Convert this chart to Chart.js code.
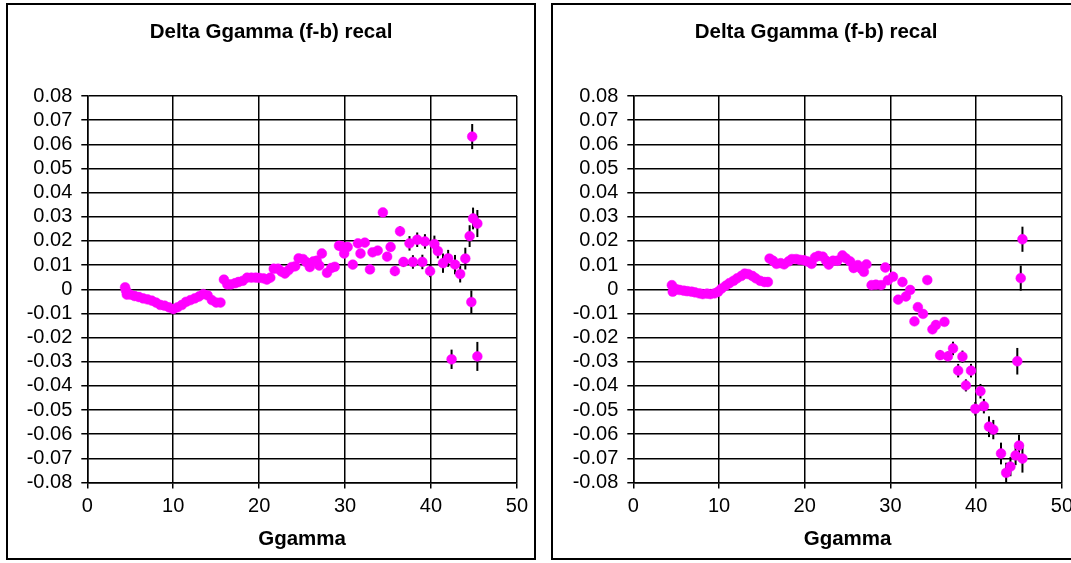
<!DOCTYPE html>
<html>
<head>
<meta charset="utf-8">
<script src="https://cdn.jsdelivr.net/npm/chart.js@4.4.1/dist/chart.umd.min.js"></script>
<style>
  html, body { margin: 0; padding: 0; background: #fff; overflow: hidden; }
  body { width: 1071px; height: 563px; position: relative; }
  .box { position: absolute; top: 3px; width: 530px; height: 557px; border: 2px solid #000; box-sizing: border-box; background: #fff; }
  .box canvas { display: block; }
</style>
</head>
<body>
<div class="box" style="left:6px"><canvas id="leftChart" width="526" height="553"></canvas></div>
<div class="box" style="left:551px"><canvas id="rightChart" width="526" height="553"></canvas></div>
<script>
// chart texts
const chartTitle = 'Delta Ggamma (f-b) recal';
const xTitle = 'Ggamma';

// tick values
const xTicks = [0, 10, 20, 30, 40, 50];
const yTicks = [0.08, 0.07, 0.06, 0.05, 0.04, 0.03, 0.02, 0.01, 0, -0.01, -0.02, -0.03, -0.04, -0.05, -0.06, -0.07, -0.08];

// left chart: Ggamma, delta, error
const leftX = [4.4, 4.5, 4.6, 5.0, 5.5, 6.0, 6.5, 7.0, 7.5, 8.0, 8.5, 9.0, 9.5, 10.0, 10.5, 11.0, 11.5, 12.0, 12.5, 13.0, 13.5, 14.0, 14.5, 15.0, 15.5,
  15.9, 16.3, 16.7, 17.2, 17.6, 18.1, 18.6, 19.1, 19.6, 20.0, 20.5, 20.9, 21.3, 21.7, 22.2, 22.6, 23.0, 23.4, 23.8,
  24.2, 24.6, 25.1, 25.5, 25.9, 26.3, 26.7, 27.0, 27.3, 27.9, 28.4, 28.8, 29.3, 29.6, 29.9, 30.3, 30.9, 31.5, 31.8, 32.3, 32.9,
  33.2, 33.8, 34.4, 34.9, 35.3, 35.8, 36.4, 36.8, 37.5, 37.9, 38.4, 39.0, 39.3, 39.9, 40.4, 40.8, 41.4, 42.0, 42.4, 42.8,
  43.4, 44.0, 44.5, 44.7, 44.8, 44.9, 45.4, 45.4];
const leftY = [0.0008, -0.0005, -0.0022, -0.0022, -0.0028, -0.0032, -0.0038, -0.0042, -0.0047, -0.0055, -0.0065, -0.0068, -0.0075, -0.0082, -0.0075, -0.0065, -0.0052, -0.0045, -0.0038, -0.003, -0.002, -0.0025, -0.0045, -0.0055, -0.0055,
  0.004, 0.002, 0.002, 0.0025, 0.003, 0.0035, 0.0048, 0.0048, 0.0048, 0.0047, 0.0045, 0.004, 0.0048, 0.0085, 0.0085, 0.0073, 0.0065, 0.0078, 0.0092,
  0.0095, 0.0128, 0.0125, 0.0112, 0.0092, 0.0115, 0.0118, 0.0098, 0.0148, 0.0068, 0.0088, 0.0093, 0.018, 0.0178, 0.0148, 0.0175, 0.0102, 0.019, 0.0148, 0.0193, 0.0082,
  0.0153, 0.016, 0.0318, 0.0135, 0.0175, 0.0075, 0.024, 0.0113, 0.019, 0.0113, 0.0205, 0.0113, 0.0198, 0.0075, 0.0187, 0.0158, 0.0108, 0.0128, -0.029, 0.0102,
  0.0063, 0.0127, 0.022, -0.0053, 0.0632, 0.0293, 0.0272, -0.0278];
const leftErr = [0.0005, 0.0005, 0.0005, 0.0005, 0.0005, 0.0005, 0.0005, 0.0005, 0.0005, 0.0005, 0.0005, 0.0005, 0.0005, 0.0005, 0.0005, 0.0005, 0.0005, 0.0005, 0.0005, 0.0005, 0.0005, 0.0005, 0.0005, 0.0005, 0.0005,
  0.0005, 0.0005, 0.0005, 0.0005, 0.0005, 0.0005, 0.0005, 0.0005, 0.0005, 0.0005, 0.0005, 0.0005, 0.0005, 0.0005, 0.0005, 0.0005, 0.0005, 0.0005, 0.0005,
  0.0006, 0.0006, 0.0006, 0.0006, 0.0006, 0.0006, 0.0007, 0.0007, 0.0008, 0.0008, 0.0009, 0.0009, 0.001, 0.001, 0.001, 0.001, 0.0011, 0.0012, 0.0012, 0.0013, 0.0014,
  0.0014, 0.0015, 0.0015, 0.0016, 0.0017, 0.002, 0.002, 0.002, 0.003, 0.0028, 0.003, 0.003, 0.003, 0.0025, 0.0035, 0.003, 0.004, 0.0035, 0.004, 0.004,
  0.0035, 0.0045, 0.0045, 0.0048, 0.0052, 0.0045, 0.0056, 0.006];

// right chart: Ggamma, delta, error
const rightX = [4.5, 4.6, 5.0, 5.4, 5.9, 6.3, 6.8, 7.2, 7.7, 8.1, 8.6, 9.0, 9.5, 9.9, 10.3, 10.8, 11.2, 11.7, 12.1, 12.6, 13.0, 13.4, 13.9, 14.3, 14.8, 15.3, 15.7,
  15.9, 16.3, 16.7, 17.2, 17.6, 18.1, 18.5, 19.0, 19.4, 19.9, 20.3, 20.8, 21.2, 21.6, 22.1, 22.5, 22.8, 23.3, 23.8, 24.4, 24.8, 25.3, 25.7, 26.2, 26.6, 26.9, 27.2,
  27.8, 28.3, 28.9, 29.4, 29.7, 30.3, 30.9, 31.4, 31.8, 32.3, 32.8, 33.2, 33.8, 34.3, 34.9, 35.3, 35.8, 36.3, 36.7, 37.3, 37.9, 38.4, 38.8, 39.4, 39.9,
  40.5, 40.9, 41.5, 42.0, 42.9, 43.5, 44.0, 44.6, 44.8, 45.0, 45.2, 45.4, 45.4];
const rightY = [0.0017, -0.001, 0.0, -0.0003, -0.0006, -0.0008, -0.001, -0.0013, -0.0017, -0.002, -0.0018, -0.002, -0.0017, -0.001, 0.0003, 0.0015, 0.0025, 0.0035, 0.0045, 0.0055, 0.0065, 0.0063, 0.0055, 0.0045, 0.0035, 0.003, 0.003,
  0.0127, 0.0118, 0.0105, 0.0108, 0.0103, 0.0115, 0.0125, 0.0125, 0.0122, 0.012, 0.0115, 0.0105, 0.0132, 0.0138, 0.0135, 0.0118, 0.0102, 0.0118, 0.0118, 0.014, 0.0128, 0.0115, 0.0088, 0.01, 0.0085, 0.0072, 0.0103,
  0.0017, 0.0019, 0.0017, 0.009, 0.0037, 0.0052, -0.0043, 0.003, -0.003, -0.0003, -0.0133, -0.0074, -0.0102, 0.0038, -0.0166, -0.0148, -0.0273, -0.0135, -0.0278, -0.0245, -0.0337, -0.0279, -0.0398, -0.0337, -0.0495,
  -0.0422, -0.0484, -0.0569, -0.0581, -0.068, -0.076, -0.0734, -0.0688, -0.0298, -0.0647, 0.0046, -0.0701, 0.0207];
const rightErr = [0.0005, 0.0005, 0.0005, 0.0005, 0.0005, 0.0005, 0.0005, 0.0005, 0.0005, 0.0005, 0.0005, 0.0005, 0.0005, 0.0005, 0.0005, 0.0005, 0.0005, 0.0005, 0.0005, 0.0005, 0.0005, 0.0005, 0.0005, 0.0005, 0.0005, 0.0005, 0.0005,
  0.0005, 0.0005, 0.0005, 0.0005, 0.0005, 0.0005, 0.0005, 0.0005, 0.0005, 0.0005, 0.0005, 0.0005, 0.0005, 0.0005, 0.0005, 0.0005, 0.0005, 0.0005, 0.0005, 0.0006, 0.0006, 0.0006, 0.0006, 0.0006, 0.0007, 0.0007, 0.0007,
  0.0008, 0.0008, 0.0009, 0.001, 0.001, 0.001, 0.0011, 0.0012, 0.0012, 0.0013, 0.0014, 0.0014, 0.0015, 0.0015, 0.0016, 0.0017, 0.002, 0.0015, 0.002, 0.0028, 0.0028, 0.0025, 0.0025, 0.0028, 0.0028,
  0.003, 0.003, 0.0043, 0.004, 0.0045, 0.0042, 0.004, 0.004, 0.0055, 0.0045, 0.0052, 0.0058, 0.0052];

const FONT = '"Liberation Sans", Arial, sans-serif';

// vertical error bars, drawn under the markers
const errorBars = {
  id: 'errorBars',
  beforeDatasetsDraw(chart) {
    const { ctx, scales: { x, y } } = chart;
    const ds = chart.data.datasets[0];
    ctx.save();
    ctx.strokeStyle = '#000';
    ctx.lineWidth = 2;
    ds.data.forEach((p, i) => {
      const e = ds.errs[i];
      const px = x.getPixelForValue(p.x);
      ctx.beginPath();
      ctx.moveTo(px, y.getPixelForValue(p.y + e));
      ctx.lineTo(px, y.getPixelForValue(p.y - e));
      ctx.stroke();
    });
    ctx.restore();
  }
};

function makeChart(id, xs, ys, errs, pad, yWidth) {
  const points = xs.map((x, i) => ({ x: x, y: ys[i] }));
  return new Chart(document.getElementById(id), {
    type: 'scatter',
    data: {
      datasets: [{
        data: points,
        errs: errs,
        backgroundColor: '#ff00ff',
        borderColor: '#ff00ff',
        borderWidth: 0.5,
        pointRadius: 4.9,
      }]
    },
    options: {
      responsive: false,
      animation: false,
      layout: { padding: { left: pad, right: pad, top: 0, bottom: 0 } },
      plugins: {
        legend: { display: false },
        tooltip: { enabled: false },
        title: {
          display: true,
          text: chartTitle,
          color: '#000',
          font: { family: FONT, size: 20.5, weight: 'bold' },
          padding: { top: 14.7, bottom: 51.7 },
        },
      },
      scales: {
        x: {
          type: 'linear',
          min: 0,
          max: 50,
          afterBuildTicks: (s) => { s.ticks = xTicks.map(v => ({ value: v })); },
          afterFit: (s) => { s.height = 75.5; },
          grid: { color: '#000', lineWidth: 1.5, tickLength: 6 },
          border: { color: '#000', width: 1.5 },
          ticks: { color: '#000', font: { family: FONT, size: 20 }, padding: 6, maxRotation: 0, autoSkip: false, callback: (v) => String(v) },
          title: { display: true, text: xTitle, color: '#000', font: { family: FONT, size: 20.5, weight: 'bold' }, padding: { top: 0, bottom: 6.7 } },
        },
        y: {
          type: 'linear',
          min: -0.08,
          max: 0.08,
          afterBuildTicks: (s) => { s.ticks = yTicks.map(v => ({ value: v })); },
          afterFit: (s) => { s.width = yWidth; },
          grid: { color: '#000', lineWidth: 1.5, tickLength: 6 },
          border: { color: '#000', width: 1.5 },
          ticks: { color: '#000', font: { family: FONT, size: 20 }, padding: 9, autoSkip: false, callback: (v) => String(v) },
        },
      },
    },
    plugins: [errorBars],
  });
}

makeChart('leftChart', leftX, leftY, leftErr, 13.2, 66.1);
makeChart('rightChart', rightX, rightY, rightErr, 11, 69.3);
</script>
</body>
</html>
